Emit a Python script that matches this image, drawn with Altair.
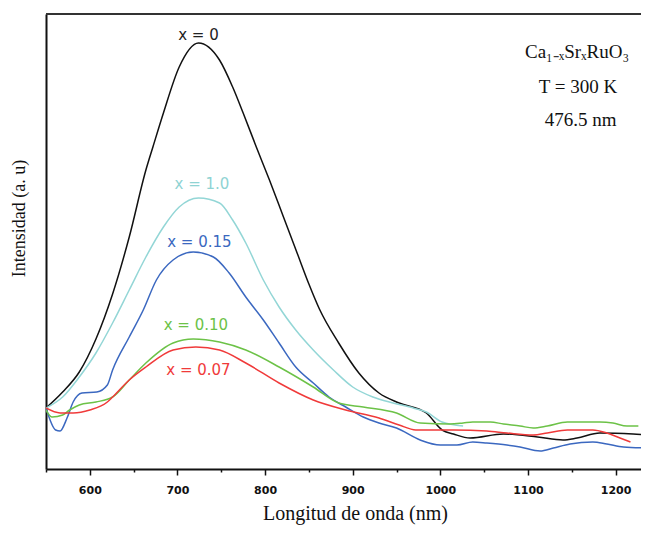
import altair as alt
import pandas as pd

# ---- data ----
series = ["x = 0", "x = 1.0", "x = 0.15", "x = 0.10", "x = 0.07"]
colors = ["#111111", "#93d6d6", "#3b68c0", "#6cc247", "#f03a3a"]
label_colors = ["#222222", "#8fd3d3", "#3b68c0", "#6cc247", "#f03a3a"]

nm_x0 = [550, 569, 588, 607, 626, 645, 664, 672, 684, 702, 724, 748, 763, 775, 790, 805,
         821, 837, 850, 862, 884, 907, 930, 953, 984, 1002, 1015, 1034, 1072, 1111, 1140, 1156,
         1182, 1220, 1238]
int_x0 = [61, 77, 97, 130, 175, 232, 299, 322, 356, 402, 426, 409, 382, 356, 322, 289,
          252, 215, 185, 160, 126, 96, 76, 66, 56, 39, 35, 31, 35, 32, 29, 31,
          36, 35, 34]

nm_x10 = [550, 569, 588, 607, 626, 645, 664, 684, 702, 724, 748, 763, 778, 798, 816, 835,
          855, 878, 900, 923, 946, 969, 984, 1002, 1026]
int_x10 = [61, 72, 92, 116, 146, 179, 212, 242, 262, 271, 266, 249, 226, 189, 162, 139,
           119, 99, 82, 72, 66, 61, 57, 47, 43]

nm_x015 = [550, 561, 566, 574, 581, 591, 608, 620, 626, 645, 661, 676, 695, 718, 741, 759,
           778, 798, 816, 835, 855, 873, 892, 912, 930, 950, 977, 1000, 1019, 1037, 1053,
           1076, 1091, 1114, 1129, 1148, 1174, 1190, 1209, 1236]
int_x015 = [61, 39, 38, 51, 67, 76, 77, 84, 99, 132, 159, 189, 209, 217, 212, 196,
            172, 149, 126, 102, 86, 72, 62, 52, 46, 41, 29, 24, 24, 27, 26,
            24, 22, 18, 21, 25, 27, 25, 22, 21]

nm_x010 = [550, 557, 569, 577, 588, 607, 626, 645, 664, 695, 718, 748, 778, 816, 855, 884,
           912, 950, 977, 1011, 1026, 1037, 1057, 1072, 1091, 1106, 1122, 1145, 1182, 1197,
           1213, 1226]
int_x010 = [59, 52, 54, 59, 64, 67, 72, 89, 106, 126, 130, 127, 119, 102, 82, 66,
            62, 56, 46, 45, 46, 47, 47, 45, 43, 41, 43, 47, 47, 46,
            43, 43]

nm_x007 = [550, 566, 581, 600, 620, 626, 645, 664, 695, 721, 748, 778, 816, 855, 892, 930,
           953, 972, 1015, 1053, 1076, 1106, 1122, 1145, 1174, 1190, 1205, 1217]
int_x007 = [61, 56, 56, 59, 67, 72, 89, 102, 119, 122, 119, 106, 86, 69, 59, 51,
            44, 39, 39, 38, 36, 34, 36, 39, 39, 36, 31, 27]

# curve labels (data coordinates)
label_nm = [724, 728, 725, 721, 724]
label_int = [434, 285, 227, 144, 99]

# sample annotation
note_text = ["Ca\u2081\u208b\u2093Sr\u2093RuO\u2083", "T = 300 K", "476.5 nm"]
note_nm = [1156, 1157, 1160]
note_int = [417, 382, 349]

x_ticks = [550, 600, 650, 700, 750, 800, 850, 900, 950, 1000, 1050, 1100, 1150, 1200]

# ---- build tables ----
xs = [nm_x0, nm_x10, nm_x015, nm_x010, nm_x007]
ys = [int_x0, int_x10, int_x015, int_x010, int_x007]
rows = []
for s, xv, yv in zip(series, xs, ys):
    for a, b in zip(xv, yv):
        rows.append({"serie": s, "nm": a, "I": b})
df = pd.DataFrame(rows)

lab = pd.DataFrame({"serie": series, "nm": label_nm, "I": label_int})
note = pd.DataFrame({"txt": note_text, "nm": note_nm, "I": note_int})

W, H = 595, 455

x_enc = alt.X(
    "nm:Q",
    scale=alt.Scale(domain=[550, 1229], nice=False, zero=False),
    axis=alt.Axis(
        title="Longitud de onda (nm)",
        values=x_ticks,
        labelExpr="datum.value % 100 === 0 ? datum.label : ''",
        format="d",
        tickSize={"condition": {"test": "datum.value % 100 === 0", "value": 6}, "value": 3},
        tickColor="#111111",
        tickWidth=1.5,
        domainColor="#111111",
        domainWidth=2,
        grid=False,
        labelFont="DejaVu Sans",
        labelFontWeight="bold",
        labelFontSize=11,
        labelColor="#111111",
        labelPadding=9,
        titleFont="Liberation Serif",
        titleFontSize=20,
        titleFontWeight="normal",
        titleColor="#111111",
        titleX=309,
        titleY=50,
        titleBaseline="alphabetic",
        titleAlign="center",
    ),
)
y_enc = alt.Y(
    "I:Q",
    scale=alt.Scale(domain=[0, 455], nice=False, zero=False),
    axis=alt.Axis(
        title="Intensidad (a. u)",
        ticks=False,
        labels=False,
        grid=False,
        domainColor="#111111",
        domainWidth=2,
        titleFont="Liberation Serif",
        titleFontSize=18,
        titleFontWeight="normal",
        titleColor="#111111",
        titleX=-18,
        titleY=204,
        titleAngle=-90,
        titleBaseline="bottom",
        titleAlign="center",
    ),
)

color_scale = alt.Scale(domain=series, range=colors)

lines = alt.Chart(df).mark_line(strokeWidth=1.5, clip=True, interpolate="monotone").encode(
    x=x_enc,
    y=y_enc,
    color=alt.Color("serie:N", scale=color_scale, legend=None),
    detail="serie:N",
)

labels = alt.Chart(lab).mark_text(
    font="DejaVu Sans", fontSize=15, align="center", baseline="middle"
).encode(
    x=x_enc,
    y=y_enc,
    text="serie:N",
    color=alt.Color("serie:N", scale=alt.Scale(domain=series, range=label_colors), legend=None),
)

notes = alt.Chart(note).mark_text(
    font="Liberation Serif", fontSize=19, align="center", baseline="middle", color="#111111"
).encode(
    x=x_enc,
    y=y_enc,
    text="txt:N",
)

top_frame = alt.Chart(pd.DataFrame({"k": [0]})).mark_rule(
    color="#333333", strokeWidth=2
).encode(x=alt.value(0), x2=alt.value(W), y=alt.value(0))

chart = alt.layer(lines, labels, notes, top_frame).resolve_scale(color="independent").properties(
    width=W,
    height=H,
    autosize=alt.AutoSizeParams(type="none"),
    padding={"left": 38, "top": 6, "right": 0, "bottom": 58},
    background="white",
).configure_view(stroke=None)

chart.save("out.html", embed_options={"renderer": "svg", "actions": False})
